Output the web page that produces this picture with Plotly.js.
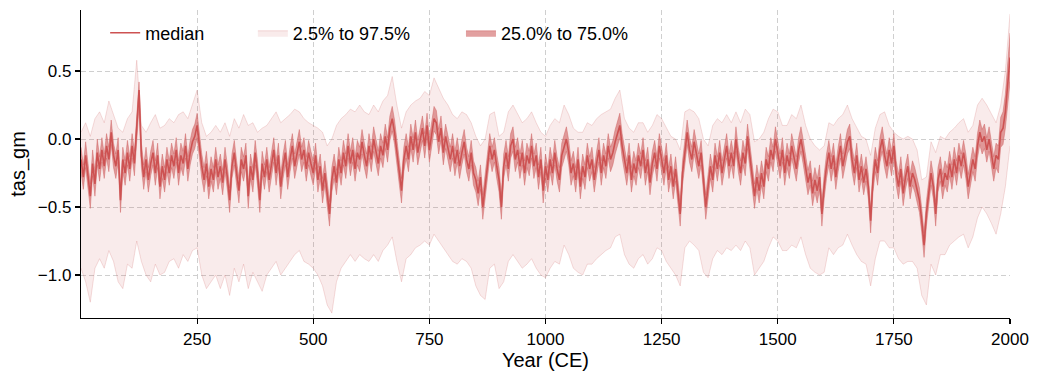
<!DOCTYPE html>
<html>
<head>
<meta charset="utf-8">
<script src="https://cdn.plot.ly/plotly-3.0.1.min.js"></script>
<style>html,body{margin:0;padding:0;background:#fff;}#chart{width:1041px;height:380px;}</style>
</head>
<body>
<div id="chart"></div>
<script>
// median, every 5 years from 0 CE to 2000 CE
const median = [
-0.15,-0.28,-0.12,-0.25,-0.42,-0.18,-0.33,-0.1,-0.22,-0.08,-0.2,-0.05,-0.15,0.05,-0.12,-0.2,-0.08,-0.45,-0.15,-0.25,
-0.1,-0.22,-0.05,-0.18,0.1,0.36,-0.12,-0.28,-0.15,-0.3,-0.18,-0.1,-0.25,-0.12,-0.35,-0.2,-0.3,-0.15,-0.25,-0.12,
-0.2,-0.08,-0.25,-0.12,-0.18,-0.05,-0.22,-0.1,-0.02,0.02,0.1,-0.05,-0.2,-0.3,-0.18,-0.35,-0.22,-0.3,-0.15,-0.28,
-0.2,-0.32,-0.15,-0.28,-0.45,-0.2,-0.1,-0.25,-0.38,-0.15,-0.22,-0.12,-0.42,-0.2,-0.3,-0.1,-0.25,-0.45,-0.18,-0.28,
-0.15,-0.3,-0.18,-0.08,-0.25,-0.12,-0.35,-0.2,-0.1,-0.28,-0.15,-0.05,-0.2,-0.1,-0.02,-0.15,-0.08,-0.22,-0.1,-0.18,
-0.25,-0.12,-0.3,-0.2,-0.38,-0.25,-0.4,-0.55,-0.3,-0.2,-0.32,-0.15,-0.25,-0.1,-0.2,-0.05,-0.18,-0.08,-0.22,-0.1,
-0.15,-0.02,-0.12,-0.2,-0.05,-0.15,0.0,-0.1,-0.18,-0.05,-0.12,0.02,-0.08,0.08,0.15,0.05,-0.1,-0.25,-0.38,-0.15,
-0.05,-0.15,0.02,-0.08,0.05,-0.1,-0.02,0.08,-0.05,0.1,-0.08,0.05,0.15,0.12,-0.02,0.08,-0.1,0.02,-0.08,-0.15,
-0.05,-0.18,-0.08,-0.2,-0.1,-0.02,-0.15,-0.22,-0.1,-0.25,-0.3,-0.4,-0.28,-0.5,-0.35,-0.2,-0.05,-0.15,-0.08,-0.2,
-0.3,-0.5,-0.2,-0.1,-0.22,-0.05,0.0,-0.15,-0.08,-0.2,-0.1,-0.25,-0.12,-0.18,-0.05,-0.2,-0.12,-0.28,-0.15,-0.38,
-0.2,-0.3,-0.15,-0.25,-0.1,-0.22,-0.3,-0.12,-0.05,0.0,-0.1,-0.25,-0.18,-0.3,-0.15,-0.35,-0.2,-0.28,-0.12,-0.22,
-0.15,-0.3,-0.18,-0.08,-0.25,-0.12,-0.2,-0.05,-0.15,-0.1,-0.02,0.05,0.1,-0.05,-0.15,-0.25,-0.12,-0.3,-0.18,-0.25,
-0.12,-0.2,-0.08,-0.25,-0.15,-0.32,-0.18,-0.1,-0.22,-0.05,-0.15,-0.25,-0.12,-0.3,-0.2,-0.35,-0.22,-0.4,-0.55,-0.25,
-0.1,0.05,-0.08,-0.15,-0.02,-0.12,-0.2,-0.1,-0.3,-0.5,-0.35,-0.2,-0.3,-0.12,-0.22,-0.1,-0.25,-0.15,-0.05,-0.2,
-0.1,-0.2,0.0,-0.15,-0.25,-0.1,-0.18,0.02,-0.12,-0.3,-0.42,-0.28,-0.38,-0.25,-0.35,-0.15,-0.22,-0.08,-0.15,0.0,
-0.1,-0.2,-0.08,-0.25,-0.12,-0.2,-0.05,-0.15,-0.22,-0.08,0.0,-0.1,-0.2,-0.32,-0.25,-0.4,-0.3,-0.38,-0.28,-0.55,
-0.35,-0.2,-0.1,-0.22,-0.12,-0.28,-0.15,-0.05,-0.2,-0.1,-0.02,0.02,-0.15,-0.25,-0.12,-0.3,-0.2,-0.32,-0.22,-0.35,
-0.6,-0.3,-0.15,-0.25,-0.08,0.0,-0.12,-0.2,-0.08,-0.18,-0.05,-0.25,-0.35,-0.22,-0.4,-0.28,-0.2,-0.35,-0.25,-0.3,
-0.38,-0.45,-0.6,-0.78,-0.55,-0.4,-0.25,-0.35,-0.55,-0.3,-0.22,-0.35,-0.25,-0.3,-0.18,-0.28,-0.15,-0.25,-0.12,-0.2,
-0.1,-0.2,-0.35,-0.25,-0.15,-0.22,-0.05,0.05,-0.02,0.02,-0.08,0.0,-0.1,-0.22,-0.12,-0.15,0.05,0.08,0.2,0.42,
0.6];

// 75th percentile, every 5 years
const q75 = [
-0.06,-0.19,-0.02,-0.16,-0.33,-0.08,-0.24,0.0,-0.13,0.01,-0.11,0.04,-0.06,0.14,-0.03,-0.11,0.01,-0.35,-0.06,-0.16,
-0.01,-0.13,0.04,-0.09,0.19,0.42,-0.03,-0.19,-0.06,-0.21,-0.09,-0.01,-0.16,-0.03,-0.26,-0.11,-0.21,-0.06,-0.16,-0.03,
-0.11,0.01,-0.16,-0.03,-0.09,0.04,-0.13,-0.01,0.07,0.11,0.19,0.04,-0.11,-0.21,-0.09,-0.26,-0.13,-0.21,-0.06,-0.19,
-0.11,-0.23,-0.06,-0.19,-0.36,-0.11,-0.01,-0.16,-0.29,-0.06,-0.13,-0.03,-0.33,-0.11,-0.21,-0.01,-0.16,-0.36,-0.09,-0.19,
-0.06,-0.21,-0.09,0.01,-0.16,-0.03,-0.26,-0.11,-0.01,-0.19,-0.06,0.04,-0.11,-0.01,0.07,-0.06,0.01,-0.13,-0.01,-0.09,
-0.16,-0.03,-0.21,-0.11,-0.29,-0.16,-0.31,-0.46,-0.21,-0.11,-0.23,-0.06,-0.16,-0.01,-0.11,0.04,-0.09,0.01,-0.13,-0.01,
-0.06,0.07,-0.03,-0.11,0.04,-0.06,0.09,-0.01,-0.09,0.04,-0.03,0.11,0.01,0.17,0.24,0.14,-0.01,-0.16,-0.29,-0.06,
0.04,-0.06,0.11,0.01,0.14,-0.01,0.07,0.17,0.04,0.19,0.01,0.14,0.24,0.21,0.07,0.17,-0.01,0.11,0.01,-0.06,
0.04,-0.09,0.01,-0.11,-0.01,0.07,-0.06,-0.13,-0.01,-0.16,-0.21,-0.31,-0.19,-0.41,-0.26,-0.11,0.04,-0.06,0.01,-0.11,
-0.21,-0.41,-0.11,-0.01,-0.13,0.04,0.09,-0.06,0.01,-0.11,-0.01,-0.16,-0.03,-0.09,0.04,-0.11,-0.03,-0.19,-0.06,-0.29,
-0.11,-0.21,-0.06,-0.16,-0.01,-0.13,-0.21,-0.03,0.04,0.09,-0.01,-0.16,-0.09,-0.21,-0.06,-0.26,-0.11,-0.19,-0.03,-0.13,
-0.06,-0.21,-0.09,0.01,-0.16,-0.03,-0.11,0.04,-0.06,-0.01,0.07,0.14,0.19,0.04,-0.06,-0.16,-0.03,-0.21,-0.09,-0.16,
-0.03,-0.11,0.01,-0.16,-0.06,-0.23,-0.09,-0.01,-0.13,0.04,-0.06,-0.16,-0.03,-0.21,-0.11,-0.26,-0.13,-0.31,-0.46,-0.16,
-0.01,0.14,0.01,-0.06,0.07,-0.03,-0.11,-0.01,-0.21,-0.41,-0.26,-0.11,-0.21,-0.03,-0.13,-0.01,-0.16,-0.06,0.04,-0.11,
-0.01,-0.11,0.09,-0.06,-0.16,-0.01,-0.09,0.11,-0.03,-0.21,-0.33,-0.19,-0.29,-0.16,-0.26,-0.06,-0.13,0.01,-0.06,0.09,
-0.01,-0.11,0.01,-0.16,-0.03,-0.11,0.04,-0.06,-0.13,0.01,0.09,-0.01,-0.11,-0.23,-0.16,-0.31,-0.21,-0.29,-0.19,-0.46,
-0.26,-0.11,-0.01,-0.13,-0.03,-0.19,-0.06,0.04,-0.11,-0.01,0.07,0.11,-0.06,-0.16,-0.03,-0.21,-0.11,-0.23,-0.13,-0.26,
-0.51,-0.21,-0.06,-0.16,0.01,0.09,-0.03,-0.11,0.01,-0.09,0.04,-0.16,-0.26,-0.13,-0.31,-0.19,-0.11,-0.26,-0.16,-0.21,
-0.29,-0.36,-0.51,-0.69,-0.46,-0.31,-0.16,-0.26,-0.46,-0.21,-0.13,-0.26,-0.16,-0.21,-0.09,-0.19,-0.06,-0.16,-0.03,-0.11,
-0.01,-0.11,-0.26,-0.16,-0.06,-0.13,0.04,0.14,0.07,0.11,0.01,0.09,-0.01,-0.13,-0.03,-0.05,0.16,0.2,0.33,0.56,
0.78];

// 25th percentile, every 5 years
const q25 = [
-0.24,-0.37,-0.21,-0.34,-0.51,-0.27,-0.42,-0.19,-0.31,-0.17,-0.29,-0.14,-0.24,-0.04,-0.21,-0.29,-0.17,-0.54,-0.24,-0.34,
-0.19,-0.31,-0.14,-0.27,0.01,0.24,-0.21,-0.37,-0.24,-0.39,-0.27,-0.19,-0.34,-0.21,-0.44,-0.29,-0.39,-0.24,-0.34,-0.21,
-0.29,-0.17,-0.34,-0.21,-0.27,-0.14,-0.31,-0.19,-0.11,-0.07,0.01,-0.14,-0.29,-0.39,-0.27,-0.44,-0.31,-0.39,-0.24,-0.37,
-0.29,-0.41,-0.24,-0.37,-0.54,-0.29,-0.19,-0.34,-0.47,-0.24,-0.31,-0.21,-0.51,-0.29,-0.39,-0.19,-0.34,-0.54,-0.27,-0.37,
-0.24,-0.39,-0.27,-0.17,-0.34,-0.21,-0.44,-0.29,-0.19,-0.37,-0.24,-0.14,-0.29,-0.19,-0.11,-0.24,-0.17,-0.31,-0.19,-0.27,
-0.34,-0.21,-0.39,-0.29,-0.47,-0.34,-0.49,-0.64,-0.39,-0.29,-0.41,-0.24,-0.34,-0.19,-0.29,-0.14,-0.27,-0.17,-0.31,-0.19,
-0.24,-0.11,-0.21,-0.29,-0.14,-0.24,-0.09,-0.19,-0.27,-0.14,-0.21,-0.07,-0.17,-0.01,0.06,-0.04,-0.19,-0.34,-0.47,-0.24,
-0.14,-0.24,-0.07,-0.17,-0.04,-0.19,-0.11,-0.01,-0.14,0.01,-0.17,-0.04,0.06,0.03,-0.11,-0.01,-0.19,-0.07,-0.17,-0.24,
-0.14,-0.27,-0.17,-0.29,-0.19,-0.11,-0.24,-0.31,-0.19,-0.34,-0.39,-0.49,-0.37,-0.59,-0.44,-0.29,-0.14,-0.24,-0.17,-0.29,
-0.39,-0.59,-0.29,-0.19,-0.31,-0.14,-0.09,-0.24,-0.17,-0.29,-0.19,-0.34,-0.21,-0.27,-0.14,-0.29,-0.21,-0.37,-0.24,-0.47,
-0.29,-0.39,-0.24,-0.34,-0.19,-0.31,-0.39,-0.21,-0.14,-0.09,-0.19,-0.34,-0.27,-0.39,-0.24,-0.44,-0.29,-0.37,-0.21,-0.31,
-0.24,-0.39,-0.27,-0.17,-0.34,-0.21,-0.29,-0.14,-0.24,-0.19,-0.11,-0.04,0.01,-0.14,-0.24,-0.34,-0.21,-0.39,-0.27,-0.34,
-0.21,-0.29,-0.17,-0.34,-0.24,-0.41,-0.27,-0.19,-0.31,-0.14,-0.24,-0.34,-0.21,-0.39,-0.29,-0.44,-0.31,-0.49,-0.64,-0.34,
-0.19,-0.04,-0.17,-0.24,-0.11,-0.21,-0.29,-0.19,-0.39,-0.59,-0.44,-0.29,-0.39,-0.21,-0.31,-0.19,-0.34,-0.24,-0.14,-0.29,
-0.19,-0.29,-0.09,-0.24,-0.34,-0.19,-0.27,-0.07,-0.21,-0.39,-0.51,-0.37,-0.47,-0.34,-0.44,-0.24,-0.31,-0.17,-0.24,-0.09,
-0.19,-0.29,-0.17,-0.34,-0.21,-0.29,-0.14,-0.24,-0.31,-0.17,-0.09,-0.19,-0.29,-0.41,-0.34,-0.49,-0.39,-0.47,-0.37,-0.64,
-0.44,-0.29,-0.19,-0.31,-0.21,-0.37,-0.24,-0.14,-0.29,-0.19,-0.11,-0.07,-0.24,-0.34,-0.21,-0.39,-0.29,-0.41,-0.31,-0.44,
-0.69,-0.39,-0.24,-0.34,-0.17,-0.09,-0.21,-0.29,-0.17,-0.27,-0.14,-0.34,-0.44,-0.31,-0.49,-0.37,-0.29,-0.44,-0.34,-0.39,
-0.47,-0.54,-0.69,-0.87,-0.64,-0.49,-0.34,-0.44,-0.64,-0.39,-0.31,-0.44,-0.34,-0.39,-0.27,-0.37,-0.24,-0.34,-0.21,-0.29,
-0.19,-0.29,-0.44,-0.34,-0.24,-0.31,-0.14,-0.04,-0.11,-0.07,-0.17,-0.09,-0.19,-0.31,-0.21,-0.25,-0.06,-0.04,0.08,0.28,
0.42];

// 97.5th and 2.5th percentiles, every 10 years
const q975 = [
0.05,0.12,0.02,0.15,0.2,0.12,0.28,0.18,0.08,0.05,
0.15,0.2,0.58,0.1,0.05,0.12,0.18,0.08,0.1,0.15,
0.12,0.18,0.2,0.15,0.25,0.36,0.12,0.02,0.05,0.1,
0.05,0.12,0.02,0.15,0.08,0.18,0.1,0.12,0.05,0.08,
0.1,0.15,0.2,0.12,0.15,0.18,0.22,0.2,0.15,0.12,
0.1,0.08,0.05,-0.05,0.0,0.1,0.15,0.18,0.22,0.2,
0.25,0.2,0.18,0.25,0.2,0.28,0.32,0.46,0.25,0.08,
0.2,0.25,0.28,0.3,0.35,0.32,0.45,0.38,0.3,0.25,
0.18,0.15,0.2,0.18,0.12,0.02,-0.05,0.0,0.18,0.2,
0.02,0.05,0.2,0.25,0.18,0.12,0.15,0.2,0.12,0.05,
0.02,0.1,0.15,0.12,0.25,0.18,0.08,0.05,0.05,0.12,
0.1,0.15,0.18,0.2,0.22,0.3,0.36,0.15,0.08,0.05,
0.12,0.12,0.05,0.1,0.18,0.15,0.08,0.02,0.0,-0.08,
0.2,0.22,0.2,0.15,0.0,-0.05,0.1,0.15,0.12,0.18,
0.12,0.2,0.12,0.22,0.18,-0.02,0.0,0.05,0.15,0.22,
0.2,0.1,0.1,0.18,0.15,0.25,0.1,0.0,-0.05,-0.08,
-0.05,0.12,0.1,0.15,0.18,0.25,0.15,0.08,0.02,0.0,
-0.12,0.08,0.18,0.2,0.1,0.05,0.02,0.0,0.02,0.0,
-0.08,-0.3,-0.28,-0.02,-0.1,0.02,0.0,0.05,0.08,0.12,
0.15,0.05,0.1,0.25,0.3,0.25,0.18,0.12,0.25,0.5,
0.92];
const q025 = [
-0.95,-1.05,-1.2,-0.95,-0.88,-0.95,-0.82,-0.9,-1.05,-1.1,
-0.92,-0.95,-0.75,-0.9,-1.0,-1.05,-0.92,-1.0,-0.98,-0.9,
-0.88,-0.95,-0.85,-0.9,-0.82,-0.8,-1.0,-1.1,-1.05,-1.0,
-1.1,-1.0,-1.15,-0.95,-1.05,-0.92,-1.1,-0.98,-1.05,-1.12,
-1.0,-0.95,-0.9,-1.0,-0.95,-0.9,-0.85,-0.82,-0.9,-0.92,
-0.95,-1.0,-1.08,-1.22,-1.28,-1.05,-0.95,-0.9,-0.85,-0.9,
-0.85,-0.88,-0.9,-0.85,-0.9,-0.82,-0.78,-0.72,-0.9,-1.05,
-0.88,-0.85,-0.8,-0.78,-0.75,-0.78,-0.7,-0.75,-0.8,-0.85,
-0.9,-0.92,-0.88,-0.9,-0.95,-1.08,-1.15,-1.18,-0.95,-0.92,
-1.1,-1.05,-0.9,-0.85,-0.9,-0.95,-0.92,-0.88,-0.95,-1.0,
-1.02,-0.95,-0.9,-0.92,-0.78,-0.85,-0.95,-0.98,-1.0,-0.92,
-0.92,-0.88,-0.85,-0.82,-0.8,-0.72,-0.7,-0.85,-0.92,-0.95,
-0.88,-0.85,-0.92,-0.88,-0.8,-0.82,-0.9,-0.95,-1.0,-1.08,
-0.8,-0.75,-0.78,-0.82,-0.98,-1.02,-0.88,-0.82,-0.85,-0.8,
-0.82,-0.78,-0.82,-0.75,-0.8,-1.0,-0.95,-0.9,-0.8,-0.72,
-0.75,-0.82,-0.82,-0.78,-0.8,-0.72,-0.85,-0.95,-0.98,-1.0,
-0.98,-0.8,-0.85,-0.8,-0.78,-0.7,-0.78,-0.85,-0.9,-0.92,
-1.08,-0.88,-0.75,-0.75,-0.8,-0.8,-0.88,-0.92,-0.9,-0.9,
-0.95,-1.15,-1.22,-0.92,-1.0,-0.85,-0.85,-0.78,-0.75,-0.72,
-0.7,-0.8,-0.72,-0.58,-0.5,-0.55,-0.62,-0.7,-0.55,-0.35,
-0.05];

const yTickVals = [-1.0, -0.5, 0.0, 0.5];
const yTickText = ['\u22121.0', '\u22120.5', '0.0', '0.5'];
const xTickVals = [250, 500, 750, 1000, 1250, 1500, 1750, 2000];

const years5 = median.map((_, i) => i * 5);
const years10 = q975.map((_, i) => i * 10);

const traces = [
  {x: years10, y: q025, type: 'scatter', mode: 'lines', line: {color: 'rgba(205,92,92,0.2)', width: 1},
   hoverinfo: 'skip', showlegend: false},
  {x: years10, y: q975, type: 'scatter', mode: 'lines', fill: 'tonexty',
   fillcolor: 'rgba(205,92,92,0.12)', line: {color: 'rgba(205,92,92,0.2)', width: 1},
   name: '2.5% to 97.5%', legend: 'legend2'},
  {x: years5, y: q25, type: 'scatter', mode: 'lines', line: {color: 'rgba(205,92,92,0.55)', width: 0.8},
   hoverinfo: 'skip', showlegend: false},
  {x: years5, y: q75, type: 'scatter', mode: 'lines', fill: 'tonexty',
   fillcolor: 'rgba(205,92,92,0.58)', line: {color: 'rgba(205,92,92,0.55)', width: 0.8},
   name: '25.0% to 75.0%', legend: 'legend3'},
  {x: years5, y: median, type: 'scatter', mode: 'lines', line: {color: 'rgb(205,82,82)', width: 1.6},
   name: 'median', legend: 'legend'}
];

const legBase = {orientation: 'h', y: 0.985, xanchor: 'left', yanchor: 'top',
                 bgcolor: 'rgba(0,0,0,0)', font: {size: 18}, traceorder: 'normal'};

const layout = {
  width: 1041, height: 380,
  margin: {l: 81, r: 31, t: 10, b: 62},
  paper_bgcolor: '#fff', plot_bgcolor: '#fff',
  font: {family: 'Liberation Sans, Arial, sans-serif', size: 18, color: '#000'},
  showlegend: true,
  legend: Object.assign({}, legBase, {x: 0.026}),
  legend2: Object.assign({}, legBase, {x: 0.185}),
  legend3: Object.assign({}, legBase, {x: 0.409}),
  xaxis: {
    range: [0, 2000], tickvals: xTickVals, ticks: 'outside', ticklen: 5, tickwidth: 1.2, tickcolor: '#000',
    showline: true, linecolor: '#000', linewidth: 1.2, mirror: false, zeroline: false,
    showgrid: true, gridcolor: '#cfcfcf', gridwidth: 1, griddash: '5px,3px',
    tickfont: {size: 17},
    title: {text: 'Year (CE)', font: {size: 20}, standoff: 4}
  },
  yaxis: {
    range: [-1.316, 0.949], tickvals: yTickVals, ticktext: yTickText, ticks: 'outside', ticklen: 5,
    tickwidth: 1.2, tickcolor: '#000',
    showline: true, linecolor: '#000', linewidth: 1.2, mirror: false, zeroline: false,
    showgrid: true, gridcolor: '#cfcfcf', gridwidth: 1, griddash: '5px,3px',
    tickfont: {size: 17},
    title: {text: 'tas_gm', font: {size: 20}, standoff: 6}
  }
};

Plotly.newPlot('chart', traces, layout, {displayModeBar: false, staticPlot: true});
</script>
</body>
</html>
